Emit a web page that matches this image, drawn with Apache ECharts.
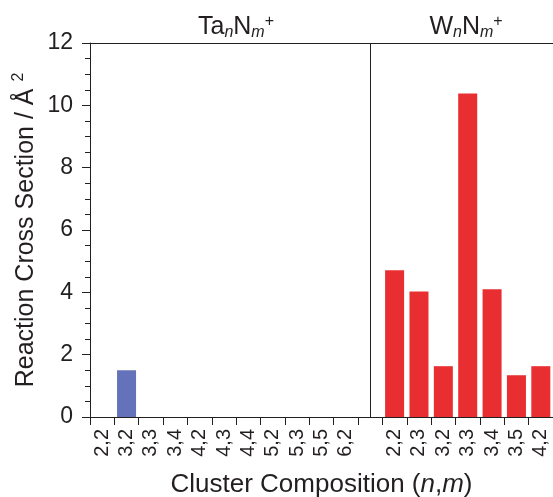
<!DOCTYPE html>
<html><head><meta charset="utf-8">
<script src="https://cdn.jsdelivr.net/npm/echarts@6/dist/echarts.min.js"></script>
<style>html,body{margin:0;padding:0;background:#fff}#c{width:553px;height:497px}</style>
</head><body><div id="c"></div>
<script>
const taCategories = ['2,2','3,2','3,3','3,4','4,2','4,3','4,4','5,2','5,3','5,5','6,2'];
const taValues = [0, 1.5, 0, 0, 0, 0, 0, 0, 0, 0, 0];
const wCategories = ['2,2','2,3','3,2','3,3','3,4','3,5','4,2'];
const wValues = [4.71, 4.03, 1.63, 10.38, 4.10, 1.34, 1.63];
const yTicks = [0, 2, 4, 6, 8, 10, 12];

const categories = taCategories.concat([''], wCategories);
const taData = taValues.concat(new Array(1 + wCategories.length).fill(null));
const wData = new Array(taCategories.length + 1).fill(null).concat(wValues);
const FONT = 'Liberation Sans';
const AX = '#231f20';

const titleRich = {
  a: {fontFamily: FONT, fontSize: 25, fontWeight: 'normal', color: '#231f20', lineHeight: 30},
  s: {fontFamily: FONT, fontSize: 16, fontWeight: 'normal', fontStyle: 'italic', color: '#231f20', lineHeight: 30, padding: [11, 0, 0, 0]},
  p: {fontFamily: FONT, fontSize: 16, fontWeight: 'normal', color: '#231f20', lineHeight: 30, padding: [0, 0, 11, 0]}
};

const chart = echarts.init(document.getElementById('c'), null, {renderer: 'canvas'});
chart.setOption({
  animation: false,
  textStyle: {fontFamily: FONT},
  title: [
    {text: '{a|Ta}{s|n}{a|N}{s|m}{p|+}', left: 231, top: 7, textAlign: 'center', textStyle: {fontWeight: 'normal', rich: titleRich}},
    {text: '{a|W}{s|n}{a|N}{s|m}{p|+}', left: 461, top: 7, textAlign: 'center', textStyle: {fontWeight: 'normal', rich: titleRich}}
  ],
  grid: {left: 90, right: 0, top: 43, bottom: 80, containLabel: false, outerBoundsMode: 'none'},
  xAxis: [
    {type: 'category', data: categories, position: 'bottom',
     axisLine: {show: true, lineStyle: {color: AX, width: 1}},
     axisTick: {show: true, interval: 0, length: 8, lineStyle: {color: AX}},
     axisLabel: {interval: 0, rotate: 90, margin: 12, fontSize: 20, color: AX, fontFamily: FONT},
     name: '{a|Cluster Composition (}{i|n}{a|,}{i|m}{a|)}', nameLocation: 'middle', nameGap: 55,
     nameMoveOverlap: false,
     nameTextStyle: {rich: {
       a: {fontFamily: FONT, fontSize: 26, color: '#231f20'},
       i: {fontFamily: FONT, fontSize: 26, fontStyle: 'italic', color: '#231f20'}
     }}},
    {type: 'category', data: categories, position: 'top',
     axisLine: {show: true, lineStyle: {color: AX, width: 1}},
     axisTick: {show: false}, axisLabel: {show: false}}
  ],
  yAxis: {type: 'value', min: yTicks[0], max: yTicks[yTicks.length - 1], interval: 2,
    axisLine: {show: true, lineStyle: {color: AX, width: 1}},
    axisTick: {show: true, length: 8, lineStyle: {color: AX}},
    minorTick: {show: true, splitNumber: 4, length: 5, lineStyle: {color: AX}},
    splitLine: {show: false},
    axisLabel: {fontSize: 23, color: AX, fontFamily: FONT, margin: 17},
    name: '{a|Reaction Cross Section / Å }{p|2}', nameLocation: 'middle', nameGap: 49, nameRotate: 90,
    nameMoveOverlap: false,
    nameTextStyle: {rich: {
      a: {fontFamily: FONT, fontSize: 25, color: '#231f20', lineHeight: 30},
      p: {fontFamily: FONT, fontSize: 16, color: '#231f20', lineHeight: 30, padding: [0, 0, 14, 0]}
    }}},
  series: [
    {name: 'Ta', type: 'bar', stack: 'all', data: taData, barCategoryGap: '22%',
     itemStyle: {color: '#6472b9'},
     markLine: {silent: true, symbol: 'none', label: {show: false},
       lineStyle: {color: AX, width: 1, type: 'solid'},
       data: [{xAxis: taCategories.length}]}},
    {name: 'W', type: 'bar', stack: 'all', data: wData, barCategoryGap: '22%',
     itemStyle: {color: '#e82e30'}}
  ]
});
</script></body></html>
